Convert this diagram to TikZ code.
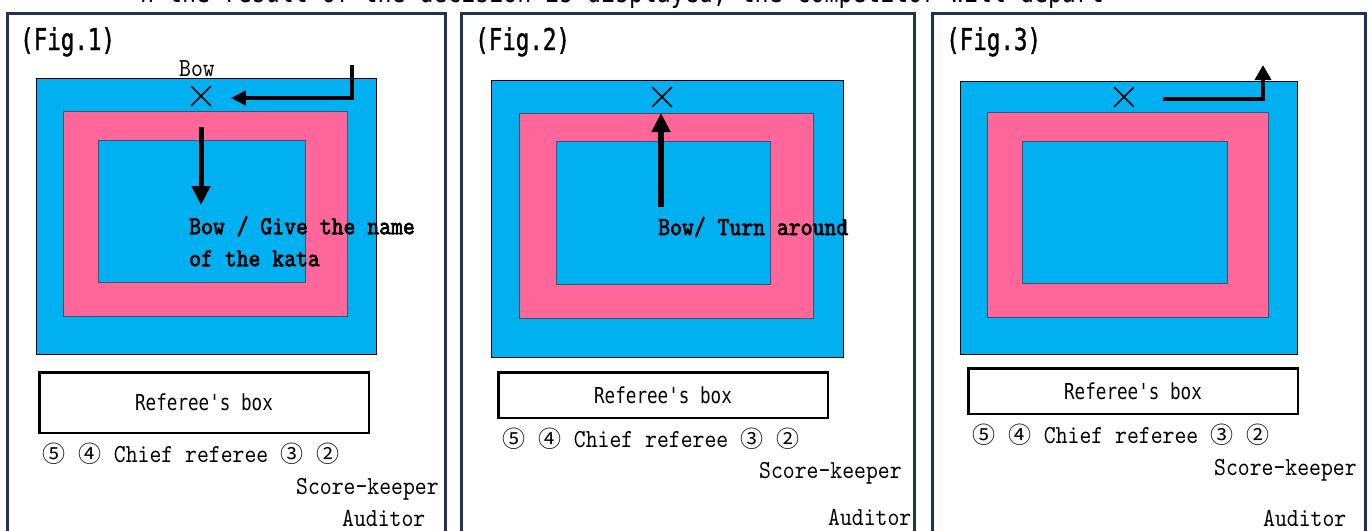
\documentclass[tikz,border=0pt]{standalone}
\usepackage{fontspec}
\usetikzlibrary{arrows.meta,shapes.misc}
\newfontfamily\minfont{lmmono10-regular.otf}[FakeStretch=0.87,BoldFont=lmmono10-regular.otf,BoldFeatures={FakeBold=2.5}]
\newfontfamily\gothfont{DejaVu Sans Mono}[FakeStretch=0.8,Ligatures=TeXOff]
\newfontfamily\titlefont{DejaVu Sans Mono}[FakeStretch=0.75,FakeBold=1.2]
\newfontfamily\circfont{Noto Sans CJK JP}
\definecolor{matblue}{HTML}{00B0F0}
\definecolor{matpink}{HTML}{FF6699}
\definecolor{framenavy}{HTML}{1F3356}
\definecolor{lineslate}{HTML}{41526B}
\newcommand{\cnum}[1]{\makebox[24pt]{\circfont\fontsize{23}{24}\selectfont#1}}

\begin{document}
\begin{tikzpicture}[x=1pt,y=-1pt,
  frame/.style={draw=framenavy,line width=3pt},
  mat/.style={fill=matblue,draw=black,line width=1pt},
  zone/.style={fill=matpink,draw=lineslate,line width=0.8pt},
  core/.style={fill=matblue,draw=lineslate,line width=0.8pt},
  cross/.style={cross out,draw=black,line width=1.6pt,minimum size=18pt,inner sep=0pt},
  walk/.style={line width=4pt,-{Triangle[length=15pt,width=14pt]}},
  walkv/.style={line width=5pt,-{Triangle[length=19pt,width=18pt]}},
  title/.style={font=\titlefont\fontsize{30}{30}\selectfont,anchor=base west,inner sep=0pt},
  say/.style={font=\minfont\fontsize{26}{32}\selectfont,anchor=base west,inner sep=0pt},
  shout/.style={say,font=\minfont\bfseries\fontsize{26}{32}\selectfont},
  refbox/.style={draw=black,line width=2.5pt,fill=white,font=\gothfont\fontsize{22}{22}\selectfont}]
  \useasboundingbox (0,0) rectangle (1372,530);
  \fill[white] (0,0) rectangle (1372,530);

  % Ligne du haut (coupee)
  \node[font=\gothfont\fontsize{29}{29}\selectfont,anchor=base west,inner sep=0pt] (note) at (140,2)
    {n the result of the decision is displayed, the competitor will depart};

  % Fig. 1
  \draw[frame] (7.5,13.5) rectangle (445.5,600);
  \node[title] (title1) at (20,50) {(Fig.1)};
  \draw[mat] (36,78) rectangle (376,354);
  \draw[zone] (63,111) rectangle (347,316);
  \draw[core] (98,140) rectangle (305,282);
  \node[cross] (bow1) at (201,96) {};
  \node[say] (bowtxt1) at (179,76) {Bow};
  \coordinate (in1) at (352,65);
  \draw[walk] (in1) |- ([xshift=20pt,yshift=-2pt]bow1.east);
  \coordinate (down1a) at (201,127);
  \coordinate (down1b) at (201,205);
  \draw[walkv] (down1a) -- (down1b);
  \node[shout,anchor=north west,align=left] (say1) at (189,216) {Bow / Give the name\\of the kata};
  \node[refbox,minimum width=329.5pt,minimum height=60.5pt] (box1) at (204,402.5) {Referee's box};
  \node[say] (row1) at (42,462) {\cnum{⑤} \cnum{④} Chief referee \cnum{③} \cnum{②}};
  \node[say] (keep1) at (296,494) {Score-keeper};
  \node[say] (aud1) at (342,526) {Auditor};

  % Fig. 2
  \draw[frame] (461.5,13.5) rectangle (914.5,600);
  \node[title] (title2) at (475,50) {(Fig.2)};
  \draw[mat] (491,80) rectangle (843,357);
  \draw[zone] (519,113) rectangle (813,318);
  \draw[core] (556,141) rectangle (770,284);
  \node[cross] (bow2) at (662,97) {};
  \coordinate (turn2) at (661,207);
  \draw[walkv,line width=6pt] (turn2) -- ([xshift=-1pt,yshift=-16pt]bow2.center);
  \node[shout] (say2) at (658,235) {Bow/ Turn around};
  \node[refbox,minimum width=329.5pt,minimum height=45.5pt] (box2) at (663,395) {Referee's box};
  \node[say] (row2) at (502,447) {\cnum{⑤} \cnum{④} Chief referee \cnum{③} \cnum{②}};
  \node[say] (keep2) at (759,478) {Score-keeper};
  \node[say] (aud2) at (828,525) {Auditor};

  % Fig. 3
  \draw[frame] (932,13.5) rectangle (1365,600);
  \node[title] (title3) at (946,50) {(Fig.3)};
  \draw[mat] (960,81) rectangle (1297,354);
  \draw[zone] (987,112) rectangle (1268,317);
  \draw[core] (1022,141) rectangle (1227,283);
  \node[cross] (bow3) at (1124,97) {};
  \coordinate (out3) at (1263,65);
  \draw[walk,-{Triangle[length=15pt,width=16pt]}] ([xshift=29pt,yshift=-2pt]bow3.east) -| (out3);
  \node[refbox,minimum width=329.5pt,minimum height=45.5pt] (box3) at (1133,391) {Referee's box};
  \node[say] (row3) at (972,443) {\cnum{⑤} \cnum{④} Chief referee \cnum{③} \cnum{②}};
  \node[say] (keep3) at (1214,475) {Score-keeper};
  \node[say] (aud3) at (1263,526) {Auditor};
\end{tikzpicture}
\end{document}
